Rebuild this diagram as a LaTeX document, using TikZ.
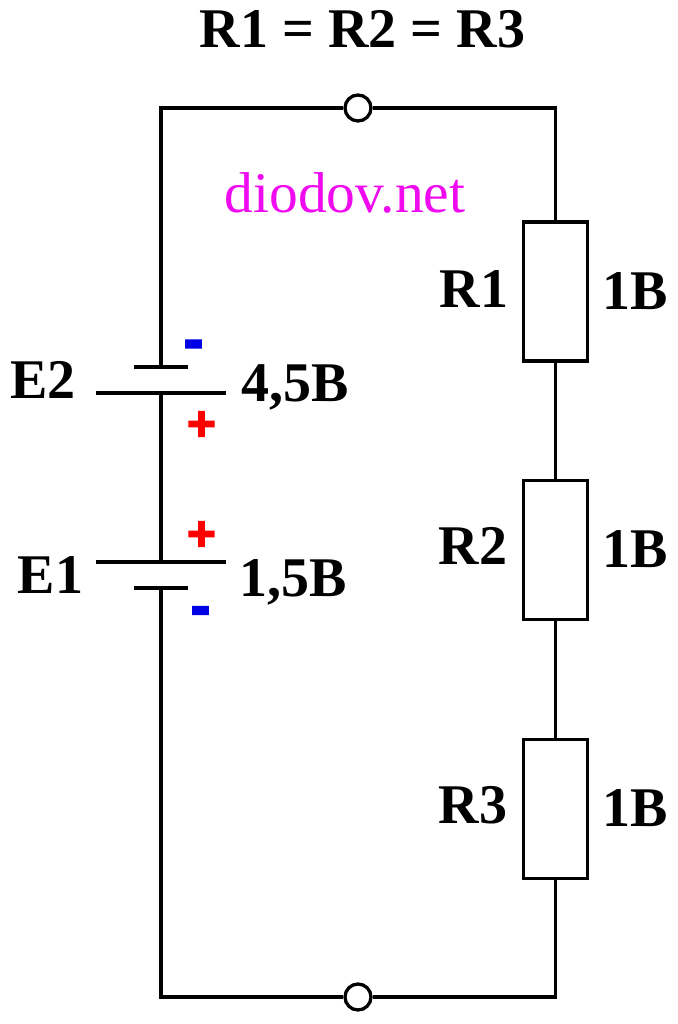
\documentclass[tikz,border=0pt]{standalone}
\usepackage{fontspec}
\setmainfont{Liberation Serif}
\newfontfamily\signfont[FakeBold=6]{DejaVu Sans}
\usetikzlibrary{positioning}
\definecolor{sitepink}{RGB}{240,10,240}
\definecolor{minusblue}{RGB}{0,0,230}
\definecolor{plusred}{RGB}{255,0,0}
\tikzset{
  wire/.style={draw=black, line width=3.3pt},
  term/.style={circle, draw=black, fill=white, line width=3.3pt, inner sep=0pt, minimum size=26pt},
  res/.style={rectangle, draw=black, fill=white, line width=3.3pt, inner sep=0pt, minimum width=64pt, minimum height=139pt},
  lbl/.style={inner sep=0pt, font=\fontsize{56}{56}\selectfont\bfseries},
  plussign/.style={inner sep=0pt, text=plusred, font=\fontsize{38}{38}\signfont\bfseries},
  minussign/.style={inner sep=0pt, text=minusblue, font=\fontsize{46}{46}\signfont\bfseries}
}
\begin{document}
\begin{tikzpicture}[x=1pt,y=-1pt]
  \useasboundingbox (0,0) rectangle (677,1024);

  % corners and plates
  \coordinate (tl) at (161,108);
  \coordinate (tr) at (555.5,108);
  \coordinate (bl) at (161,997);
  \coordinate (br) at (555.5,997);
  \coordinate (e2sL) at (134,367);
  \coordinate (e2sR) at (188,367);
  \coordinate (e2lL) at (96,393);
  \coordinate (e2lR) at (226,393);
  \coordinate (e1lL) at (96,562);
  \coordinate (e1lR) at (226,562);
  \coordinate (e1sL) at (134,588);
  \coordinate (e1sR) at (188,588);
  \coordinate (e2s) at (161,367);
  \coordinate (e2l) at (161,393);
  \coordinate (e1l) at (161,562);
  \coordinate (e1s) at (161,588);

  \node[term] (top) at (358,108) {};
  \node[term] (bot) at (358,997) {};

  \node[res] (r1) at (555.5,291.5) {};
  \node[res] (r2) at (555.5,550) {};
  \node[res] (r3) at (555.5,809) {};

  % wires
  \draw[wire] (top) -- (tl) -- (e2s);
  \draw[wire] (e2l) -- (e1l);
  \draw[wire] (e1s) -- (bl) -- (bot);
  \draw[wire] (top) -- (tr) -- (r1);
  \draw[wire] (r1) -- (r2);
  \draw[wire] (r2) -- (r3);
  \draw[wire] (r3) -- (br) -- (bot);

  % plates
  \draw[wire] (e2sL) -- (e2sR);
  \draw[wire] (e2lL) -- (e2lR);
  \draw[wire] (e1lL) -- (e1lR);
  \draw[wire] (e1sL) -- (e1sR);

  % labels
  \node[lbl] (title) at (362.5,29) {R1 = R2 = R3};
  \node[inner sep=0pt, text=sitepink, font=\fontsize{57.5}{57.5}\selectfont] (site) at (345,193) {diodov.net};
  \node[lbl] (lr1) at (474,289) {R1};
  \node[lbl] (lr2) at (473,546) {R2};
  \node[lbl] (lr3) at (473,805) {R3};
  \node[lbl] (v1) at (635,291) {1B};
  \node[lbl] (v2) at (635,549) {1B};
  \node[lbl] (v3) at (635,808) {1B};
  \node[lbl] (le2) at (43,380) {E2};
  \node[lbl] (le1) at (50.5,575) {E1};
  \node[lbl] (ve2) at (295.5,387) {4,5B};
  \node[lbl] (ve1) at (293.5,582) {1,5B};

  % polarity marks
  \node[plussign] (p2) at (201.5,424) {+};
  \node[plussign] (p1) at (201.5,534) {+};
  \node[minussign] (m2) at (193.5,349) {-};
  \node[minussign] (m1) at (200.5,615.5) {-};
\end{tikzpicture}
\end{document}
